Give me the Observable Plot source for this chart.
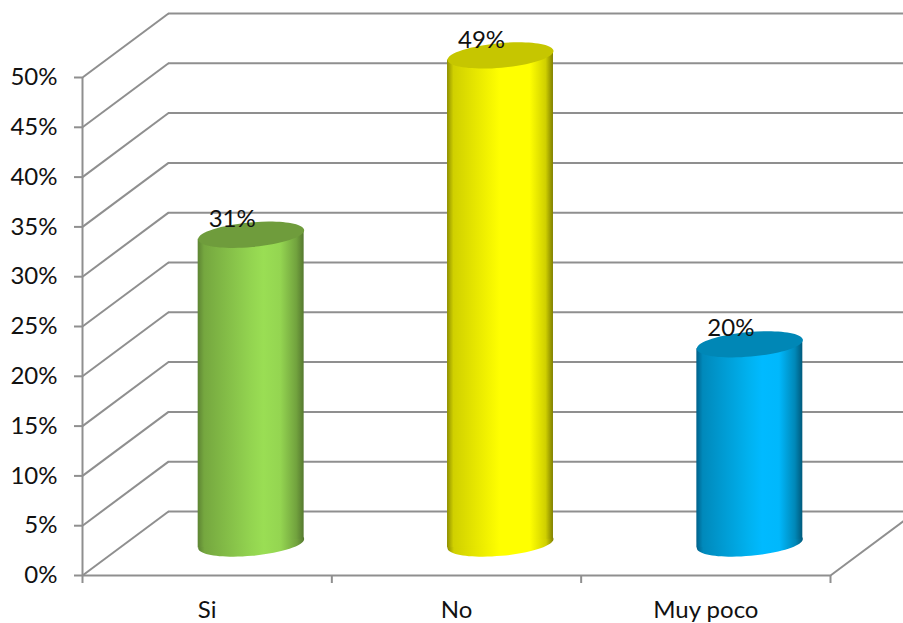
<!DOCTYPE html>
<html>
<head>
<meta charset="utf-8">
<script src="https://cdn.jsdelivr.net/npm/d3@7"></script>
<script src="https://cdn.jsdelivr.net/npm/@observablehq/plot@0.6"></script>
<style>
html,body{margin:0;padding:0;background:#fff;overflow:hidden}
g[aria-label="rect"] rect{transform-box:fill-box;transform-origin:center;transform:skewY(-4.85deg)}
</style>
</head>
<body>
<div id="chart"></div>
<script>
const categories = ["Si", "No", "Muy poco"];
const values = [31, 49, 20];
const valueLabels = ["31%", "49%", "20%"];
const capColors = ["#6f9c3c", "#c6c600", "#0087b6"];
const gradientIds = ["cylGreen", "cylYellow", "cylBlue"];
const gradientOffsets = [0, 0.06, 0.5, 0.62, 0.78, 0.93, 1];
const greenStops = ["#5d8433", "#75a73f", "#93d450", "#9ade54", "#94d551", "#72a33e", "#56792f"];
const yellowStops = ["#8f8f00", "#d0d000", "#ffff00", "#ffff00", "#ffff00", "#d0d000", "#808000"];
const blueStops = ["#00618a", "#0089bb", "#00b2f0", "#00baff", "#00b8fc", "#0088b8", "#005a7c"];
const percentTicks = [0, 5, 10, 15, 20, 25, 30, 35, 40, 45, 50];

const stopSets = [greenStops, yellowStops, blueStops];
const rows = categories.map((c, i) => ({c, i, v: values[i], label: valueLabels[i], cap: capColors[i], grad: `url(#${gradientIds[i]})`}));

const gray = "#8f8f8f";
const depthX = 0.345, depthY = 6.43;     // back wall offset, in data units
const midDx = 44, midDy = -32;           // cylinders stand mid-depth on the floor
const halfBar = 0.2125;

const tilt = 5 * Math.PI / 180;
const ellipse = {
  draw(ctx, size) {
    const a = Math.sqrt(size / Math.PI), b = a * 0.232, k = 0.5523;
    const p = (x, y) => [x * Math.cos(tilt) + y * Math.sin(tilt), -x * Math.sin(tilt) + y * Math.cos(tilt)];
    ctx.moveTo(...p(a, 0));
    ctx.bezierCurveTo(...p(a, k * b), ...p(k * a, b), ...p(0, b));
    ctx.bezierCurveTo(...p(-k * a, b), ...p(-a, k * b), ...p(-a, 0));
    ctx.bezierCurveTo(...p(-a, -k * b), ...p(-k * a, -b), ...p(0, -b));
    ctx.bezierCurveTo(...p(k * a, -b), ...p(a, -k * b), ...p(a, 0));
    ctx.closePath();
  }
};

const gradients = () => {
  const defs = d3.create("svg:defs");
  gradientIds.forEach((id, i) => {
    const g = defs.append("linearGradient").attr("id", id);
    gradientOffsets.forEach((o, j) =>
      g.append("stop").attr("offset", o).attr("stop-color", stopSets[i][j]));
  });
  return defs.node();
};

const font = "Lato, Carlito, Calibri, sans-serif";
const textSize = 24;

const plot = Plot.plot({
  width: 903,
  height: 623,
  marginLeft: 82,
  marginRight: 73,
  marginTop: 77,
  marginBottom: 48,
  style: {fontFamily: font, fontSize: textSize + "px", background: "#fff"},
  x: {type: "linear", domain: [0, categories.length], axis: null},
  y: {domain: [0, 50], axis: null},
  color: {type: "identity"},
  marks: [
    gradients,
    // back wall gridlines and side wall diagonals
    Plot.ruleY(percentTicks, {dx: 86, dy: -64, stroke: gray, strokeWidth: 2}),
    Plot.link(percentTicks, {x1: 0, x2: depthX, y1: d => d, y2: d => d + depthY, stroke: gray, strokeWidth: 2}),
    Plot.link([0], {x1: categories.length, x2: categories.length + depthX, y1: 0, y2: depthY, stroke: gray, strokeWidth: 2}),
    // axes
    Plot.ruleX([0], {y1: 0, y2: 50, stroke: gray, strokeWidth: 2}),
    Plot.ruleY([0], {stroke: gray, strokeWidth: 2}),
    Plot.axisY({anchor: "left", ticks: percentTicks, tickFormat: d => d + "%", tickSize: 8, tickPadding: 17,
      stroke: gray, strokeWidth: 2, label: null, fontSize: textSize, fill: "#111"}),
    Plot.axisX({anchor: "bottom", ticks: d3.range(categories.length + 1), tickFormat: () => "", tickSize: 8,
      stroke: gray, strokeWidth: 2, label: null}),
    Plot.axisX({anchor: "bottom", ticks: categories.map((c, i) => i + 0.5), tickFormat: d => categories[d - 0.5],
      tickSize: 0, tickPadding: 25, label: null, fontSize: textSize, fill: "#111"}),
    // cylinders
    Plot.dot(rows, {x: d => d.i + 0.5, y: () => 0, r: 53.2, symbol: ellipse, fill: "grad", stroke: null, dx: midDx, dy: midDy}),
    Plot.rectY(rows, {x1: d => d.i + 0.5 - halfBar, x2: d => d.i + 0.5 + halfBar, y1: 0, y2: "v", fill: "grad",
      dx: midDx, dy: midDy}),
    Plot.dot(rows, {x: d => d.i + 0.5, y: "v", r: 53.2, symbol: ellipse, fill: "cap", stroke: null, dx: midDx, dy: midDy}),
    // value labels
    Plot.text(rows, {x: d => d.i + 0.5, y: "v", text: "label", dx: 25, dy: -47.5, fontSize: textSize, fill: "#111"})
  ]
});
document.getElementById("chart").appendChild(plot);
</script>
</body>
</html>
